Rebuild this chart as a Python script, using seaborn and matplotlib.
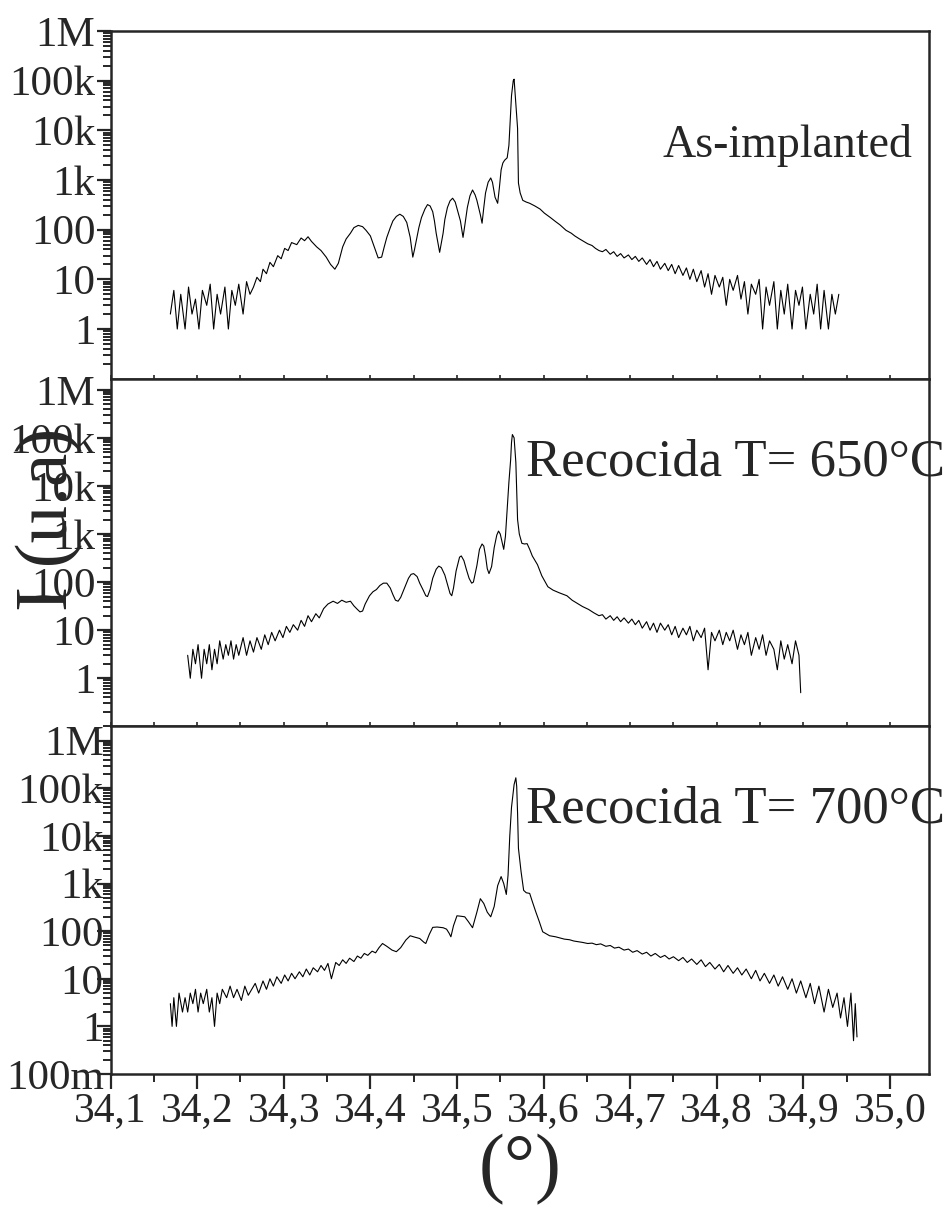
import numpy as np
import matplotlib
matplotlib.use("Agg")
import matplotlib.pyplot as plt
import matplotlib.ticker as mticker
import seaborn as sns

# --- data (2theta in degrees, intensity in counts) ---
x_ticks = [34.1, 34.2, 34.3, 34.4, 34.5, 34.6, 34.7, 34.8, 34.9, 35.0]
x_tick_labels = ["34,1", "34,2", "34,3", "34,4", "34,5", "34,6", "34,7", "34,8", "34,9", "35,0"]
y_ticks = [0.1, 1, 10, 100, 1e3, 1e4, 1e5, 1e6]
y_tick_labels = ["100m", "1", "10", "100", "1k", "10k", "100k", "1M"]

panel_titles = ["As-implanted", "Recocida T= 650°C", "Recocida T= 700°C"]

# As-implanted
x_asimp = [34.169, 34.173, 34.177, 34.181, 34.186, 34.190, 34.194, 34.198, 34.202, 34.206,
           34.211, 34.215, 34.219, 34.223, 34.227, 34.232, 34.236, 34.240, 34.244, 34.248,
           34.253, 34.257, 34.261,
           34.265, 34.269, 34.273, 34.276, 34.280, 34.284, 34.288, 34.293, 34.297, 34.301,
           34.305, 34.309, 34.315, 34.320, 34.324, 34.328, 34.332, 34.338, 34.343, 34.349,
           34.354, 34.359, 34.363, 34.368, 34.372, 34.377, 34.381, 34.386, 34.391, 34.395,
           34.400, 34.403, 34.406, 34.409, 34.413, 34.416, 34.419, 34.423, 34.426, 34.430,
           34.434, 34.438, 34.442, 34.444, 34.446, 34.449, 34.451, 34.453, 34.456, 34.459,
           34.463, 34.466, 34.469, 34.472, 34.474, 34.476, 34.478, 34.480, 34.482, 34.484,
           34.486, 34.489, 34.492, 34.495, 34.498, 34.500, 34.504, 34.507, 34.509, 34.512,
           34.515, 34.518, 34.521, 34.523, 34.527, 34.529, 34.531, 34.533, 34.536, 34.539,
           34.541, 34.542, 34.544, 34.547, 34.549, 34.551, 34.553, 34.555, 34.557, 34.558,
           34.560, 34.561, 34.563, 34.565, 34.566, 34.567, 34.570, 34.571, 34.573, 34.576,
           34.580, 34.584, 34.590, 34.596, 34.601, 34.608, 34.614, 34.619, 34.626, 34.632,
           34.636, 34.641, 34.645, 34.651, 34.656, 34.660, 34.664,
           34.668, 34.672, 34.677, 34.681, 34.685, 34.689, 34.693, 34.698, 34.702, 34.706,
           34.710, 34.714, 34.719, 34.723, 34.727, 34.731, 34.735, 34.740, 34.744, 34.748,
           34.752, 34.756, 34.761, 34.765, 34.769, 34.773, 34.777, 34.782, 34.786, 34.790,
           34.794, 34.798, 34.803, 34.807, 34.811, 34.815, 34.819, 34.824, 34.828, 34.832,
           34.836, 34.840, 34.845, 34.849, 34.853, 34.857, 34.861, 34.866, 34.870, 34.874,
           34.878, 34.882, 34.887, 34.891, 34.895, 34.899, 34.903, 34.908, 34.912, 34.916,
           34.920, 34.924, 34.929, 34.933, 34.937, 34.941]
i_asimp = [2, 6, 1, 5, 1, 7, 2, 4, 1, 6,
           3, 8, 1, 5, 2, 7, 1, 6, 3, 8,
           2, 9, 5,
           7, 11, 9, 16, 13, 22, 18, 30, 26, 42,
           38, 55, 50, 68, 60, 72, 58, 45, 38, 28,
           20, 16, 21, 45, 65, 85, 110, 122, 115, 97,
           75, 53, 38, 27, 28, 45, 70, 110, 150, 185,
           205, 185, 140, 100, 70, 28, 40, 60, 110, 175,
           260, 320, 300, 230, 150, 85, 55, 35, 55, 85,
           160, 280, 380, 430, 360, 270, 150, 70, 120, 280,
           480, 630, 500, 390, 200, 135, 280, 550, 900, 1100,
           900, 720, 450, 340, 700, 1600, 2200, 2500, 2700, 2800,
           5000, 11000, 50000, 100000, 107000, 60000, 11000, 870, 550, 390,
           360, 340, 300, 260, 215, 175, 145, 125, 97, 85,
           75, 66, 60, 52, 48, 42, 38,
           36, 40, 32, 36, 29, 33, 27, 31, 25, 29,
           23, 27, 20, 25, 18, 23, 16, 21, 15, 20,
           13, 19, 12, 17, 10, 16, 9, 15, 7, 13,
           5, 12, 7, 11, 3, 10, 6, 12, 4, 9,
           2, 8, 5, 10, 1, 7, 3, 9, 1, 6,
           2, 8, 1, 6, 3, 7, 1, 5, 2, 8,
           1, 6, 1, 5, 2, 5]

# Recocida 650 C
x_650 = [34.189, 34.192, 34.195, 34.198, 34.201, 34.205, 34.208, 34.211, 34.214, 34.217,
         34.220, 34.223, 34.226, 34.230, 34.233, 34.236, 34.239, 34.242, 34.245, 34.248,
         34.253, 34.257, 34.261, 34.265, 34.269, 34.274,
         34.278, 34.282, 34.286, 34.290, 34.295, 34.299, 34.303, 34.307, 34.311, 34.316,
         34.320, 34.324, 34.328, 34.332, 34.337,
         34.341, 34.346, 34.351, 34.357, 34.362, 34.367, 34.372, 34.377, 34.381, 34.385,
         34.388, 34.391, 34.394, 34.399, 34.403, 34.407, 34.411, 34.415, 34.419, 34.423,
         34.426, 34.429, 34.432, 34.435, 34.440, 34.444, 34.447, 34.450, 34.454, 34.457,
         34.461, 34.464, 34.466, 34.469, 34.472, 34.476, 34.479, 34.482, 34.486, 34.489,
         34.492, 34.494, 34.496, 34.499, 34.503, 34.505, 34.508, 34.511, 34.514, 34.517,
         34.519, 34.523, 34.526, 34.529, 34.531, 34.533, 34.535, 34.537, 34.540, 34.543,
         34.546, 34.548, 34.550, 34.552, 34.554, 34.556, 34.558, 34.560, 34.562, 34.563,
         34.564, 34.566, 34.568, 34.569, 34.570, 34.572, 34.575, 34.578, 34.581, 34.584,
         34.587, 34.593, 34.598, 34.605, 34.611, 34.618, 34.627, 34.633, 34.639, 34.645,
         34.652, 34.658, 34.664,
         34.668, 34.672, 34.677, 34.681, 34.685, 34.689, 34.693, 34.698, 34.702, 34.706,
         34.710, 34.714, 34.719, 34.723, 34.727, 34.731, 34.735, 34.740, 34.744, 34.748,
         34.752, 34.756, 34.761, 34.765, 34.769, 34.773, 34.777, 34.782, 34.786, 34.790,
         34.794, 34.798, 34.803, 34.807, 34.811, 34.815, 34.819, 34.824, 34.828, 34.832,
         34.836, 34.840, 34.845, 34.849, 34.853, 34.857, 34.861, 34.866, 34.870, 34.874,
         34.878, 34.882, 34.887, 34.891, 34.895, 34.897]
i_650 = [3, 1, 4, 2, 5, 1, 4, 2, 5, 1.5,
         4, 2, 6, 2.5, 5, 3, 6, 2.5, 5, 3,
         7, 3, 6, 3.5, 7, 4,
         8, 5, 9, 6, 10, 7, 12, 9, 13, 10,
         16, 12, 20, 15, 22,
         18, 28, 35, 40, 36, 42, 38, 40, 32, 27,
         24, 25, 35, 52, 63, 70, 85, 95, 95, 75,
         55, 42, 40, 48, 80, 120, 145, 150, 130, 95,
         68, 52, 50, 70, 120, 185, 215, 200, 140, 90,
         58, 52, 75, 170, 330, 350, 280, 180, 120, 95,
         100, 220, 480, 620, 560, 350, 190, 150, 210, 520,
         950, 1150, 1000, 700, 480, 900, 3200, 12000, 35000, 80000,
         117000, 100000, 31000, 8000, 2000, 1000, 640, 620, 630, 480,
         350, 230, 135, 80, 68, 60, 52, 42, 36, 31,
         27, 23, 20,
         21, 17, 20, 16, 19, 15, 18, 14, 17, 13,
         16, 11, 15, 10, 14, 9, 14, 10, 13, 8,
         12, 7, 11, 8, 12, 6, 10, 7, 11, 1.5,
         9, 6, 10, 5, 9, 6, 10, 4, 8, 5,
         9, 3, 7, 4, 8, 3, 6, 4, 1.5, 6,
         2.5, 5, 2, 6, 3, 0.5]

# Recocida 700 C
x_700 = [34.169, 34.171, 34.173, 34.176, 34.179, 34.183, 34.186, 34.189, 34.192, 34.195,
         34.198, 34.201, 34.204, 34.207, 34.211, 34.214, 34.217, 34.220, 34.223, 34.226,
         34.229, 34.234, 34.238, 34.242, 34.246, 34.251, 34.255, 34.259,
         34.263, 34.267, 34.271, 34.276, 34.280, 34.284, 34.288, 34.292, 34.297, 34.301,
         34.305, 34.309, 34.313, 34.318, 34.322, 34.326, 34.330, 34.334, 34.339, 34.343,
         34.347, 34.351, 34.355, 34.360, 34.364, 34.368, 34.372, 34.376, 34.381, 34.385,
         34.389, 34.393, 34.397, 34.402, 34.406, 34.410, 34.414,
         34.419, 34.425, 34.430, 34.435, 34.441, 34.446, 34.451, 34.457, 34.462, 34.464,
         34.468, 34.472, 34.477, 34.484, 34.488, 34.491, 34.493, 34.496, 34.500, 34.505,
         34.509, 34.513, 34.518, 34.523, 34.527, 34.531, 34.535, 34.539, 34.543, 34.547,
         34.551, 34.554, 34.557, 34.559, 34.561, 34.563, 34.566, 34.568, 34.569, 34.570,
         34.571, 34.574, 34.577, 34.580, 34.584, 34.587, 34.591, 34.595, 34.599, 34.603,
         34.607,
         34.614, 34.619, 34.624, 34.630, 34.635, 34.640, 34.645, 34.651, 34.656, 34.661,
         34.666, 34.672, 34.677, 34.682, 34.687, 34.693, 34.698, 34.703, 34.708, 34.714,
         34.719, 34.724, 34.729, 34.735, 34.740, 34.745, 34.750, 34.756, 34.761, 34.766,
         34.771, 34.777, 34.782, 34.787, 34.792, 34.798, 34.803, 34.808, 34.813, 34.819,
         34.824, 34.829, 34.834, 34.840, 34.845, 34.850, 34.855, 34.861, 34.866, 34.871,
         34.876, 34.882, 34.887, 34.892, 34.897, 34.903, 34.908, 34.913, 34.918, 34.924,
         34.929, 34.934, 34.939, 34.943, 34.947, 34.951, 34.955, 34.958, 34.960, 34.962]
i_700 = [3, 1, 4, 1, 5, 2, 4, 2, 5, 3,
         6, 2, 5, 3, 6, 2, 4, 1, 5, 3,
         6, 4, 7, 4, 6, 3.5, 7, 4.5,
         6, 8, 5, 9, 6, 10, 7, 11, 8, 12,
         9, 13, 10, 14, 11, 16, 12, 17, 14, 19,
         15, 21, 10, 22, 19, 25, 21, 27, 23, 30,
         27, 34, 31, 38, 35, 45, 55,
         48, 40, 37, 45, 65, 80, 75, 70, 58, 55,
         85, 120, 122, 118, 110, 90, 76, 130, 210, 205,
         200, 160, 118, 250, 480, 380, 250, 200, 330, 900,
         1400, 1000, 590, 1500, 10000, 40000, 120000, 166000, 110000, 30000,
         5500, 1800, 720, 640, 620, 420, 255, 160, 97, 88,
         80,
         76, 72, 68, 66, 62, 60, 58, 55, 56, 52,
         54, 48, 50, 44, 46, 40, 42, 36, 39, 33,
         36, 30, 34, 28, 31, 26, 29, 24, 28, 22,
         26, 20, 25, 18, 22, 16, 20, 14, 19, 13,
         17, 12, 16, 10, 15, 9, 13, 8, 12, 7,
         11, 6, 10, 5, 9, 4, 8, 3, 7, 2,
         6, 2.5, 5, 1.5, 4, 1, 5, 0.5, 3, 0.6]

panel_x = [x_asimp, x_650, x_700]
panel_i = [i_asimp, i_650, i_700]
panel_ylim = [(0.1, 1.0e6), (0.1, 1.7e6), (0.1, 2.0e6)]

# --- style ---
sns.set_style("ticks")
plt.rcParams["font.family"] = ["Liberation Serif", "DejaVu Serif"]
plt.rcParams["axes.linewidth"] = 1.8

fig, axes = plt.subplots(3, 1, sharex=True, figsize=(9.43, 12.07), dpi=100)
fig.subplots_adjust(left=0.1173, right=0.985, top=0.9743, bottom=0.1102, hspace=0)

for k, ax in enumerate(axes):
    sns.lineplot(x=panel_x[k], y=panel_i[k], ax=ax, color="black", linewidth=0.8,
                 estimator=None, sort=False)
    ax.set_yscale("log")
    ax.set_ylim(*panel_ylim[k])
    ax.set_xlim(34.1, 35.045)

    # y ticks: decades, the 100m label only on the bottom panel
    start = 0 if k == 2 else 1
    ax.yaxis.set_major_locator(mticker.FixedLocator(y_ticks[start:]))
    ax.yaxis.set_major_formatter(mticker.FixedFormatter(y_tick_labels[start:]))
    ax.yaxis.set_minor_locator(mticker.LogLocator(base=10, subs=np.arange(2, 10), numticks=30))
    ax.yaxis.set_minor_formatter(mticker.NullFormatter())
    ax.tick_params(axis="y", which="major", direction="out", length=10, width=1.6,
                   labelsize=31, pad=-5 if k == 2 else 1)
    ax.tick_params(axis="y", which="minor", direction="out", length=6, width=1.4)

    ax.set_ylabel("")
    ax.text(0.764 if k else 0.827, 0.76 if k else 0.671, panel_titles[k],
            transform=ax.transAxes, ha="center", va="center",
            fontsize=38 if k else 33, clip_on=False)

    for side in ["top", "right", "left", "bottom"]:
        ax.spines[side].set_visible(True)

# x ticks
bottom = axes[2]
bottom.xaxis.set_major_locator(mticker.FixedLocator(x_ticks))
bottom.xaxis.set_major_formatter(mticker.FixedFormatter(x_tick_labels))
bottom.xaxis.set_minor_locator(mticker.MultipleLocator(0.05))
for ax in axes[:2]:
    ax.tick_params(axis="x", which="both", direction="in", length=3, width=1.2,
                   labelbottom=False)
bottom.tick_params(axis="x", which="major", direction="out", length=11, width=1.6,
                   labelsize=30, pad=2)
bottom.tick_params(axis="x", which="minor", direction="out", length=6, width=1.4)
bottom.set_xlabel("(°)", fontsize=56, labelpad=2)

fig.text(0.052, 0.57, "I (u.a)", rotation=90, ha="center", va="center", fontsize=54)

plt.savefig("out.png", dpi=100)
plt.close()
